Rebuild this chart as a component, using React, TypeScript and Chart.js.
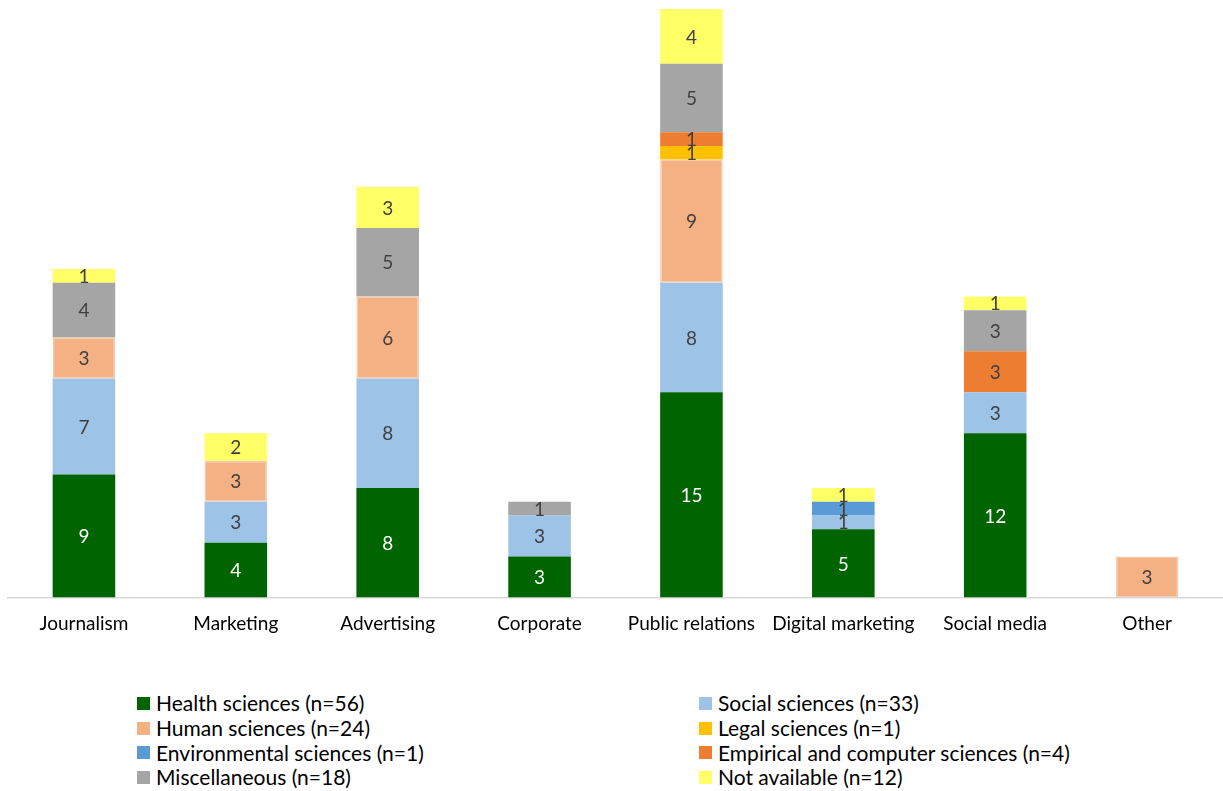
import React, { useEffect, useRef } from "react";
import { Chart, registerables } from "chart.js";

Chart.register(...registerables);

const categories = [
  "Journalism",
  "Marketing",
  "Advertising",
  "Corporate",
  "Public relations",
  "Digital marketing",
  "Social media",
  "Other",
];

const healthSciences = [9, 4, 8, 3, 15, 5, 12, 0];
const socialSciences = [7, 3, 8, 3, 8, 1, 3, 0];
const humanSciences = [3, 3, 6, 0, 9, 0, 0, 3];
const legalSciences = [0, 0, 0, 0, 1, 0, 0, 0];
const environmentalSciences = [0, 0, 0, 0, 0, 1, 0, 0];
const empiricalSciences = [0, 0, 0, 0, 1, 0, 3, 0];
const miscellaneous = [4, 0, 5, 1, 5, 0, 3, 0];
const notAvailable = [1, 2, 3, 0, 4, 1, 1, 0];

const seriesLabels = [
  "Health sciences (n=56)",
  "Social sciences (n=33)",
  "Human sciences (n=24)",
  "Legal sciences (n=1)",
  "Environmental sciences (n=1)",
  "Empirical and computer sciences (n=4)",
  "Miscellaneous (n=18)",
  "Not available (n=12)",
];
const seriesValues = [
  healthSciences,
  socialSciences,
  humanSciences,
  legalSciences,
  environmentalSciences,
  empiricalSciences,
  miscellaneous,
  notAvailable,
];
const seriesColors = [
  "#006400",
  "#9DC3E6",
  "#F4B183",
  "#FFC000",
  "#5B9BD5",
  "#ED7D31",
  "#A5A5A5",
  "#FFFF66",
];
const seriesBorders = [
  "#006400",
  "#9DC3E6",
  "#F8CBAD",
  "#FFC000",
  "#5B9BD5",
  "#ED7D31",
  "#A5A5A5",
  "#FFFF66",
];
const labelColors = ["#FFFFFF", "#404040", "#404040", "#404040", "#404040", "#404040", "#404040", "#404040"];

// legend order (two columns, row by row)
const legendOrder = [0, 1, 2, 3, 4, 5, 6, 7];

const FONT = "Lato, 'Open Sans', sans-serif";

const valueLabels = {
  id: "valueLabels",
  afterDatasetsDraw(chart: any) {
    const ctx = chart.ctx;
    ctx.save();
    ctx.font = `19px ${FONT}`;
    ctx.textAlign = "center";
    ctx.textBaseline = "middle";
    chart.data.datasets.forEach((ds: any, di: number) => {
      const meta = chart.getDatasetMeta(di);
      meta.data.forEach((bar: any, i: number) => {
        const v = ds.data[i];
        if (!v) return;
        const { x, y, base } = bar.getProps(["x", "y", "base"], true);
        ctx.fillStyle = labelColors[di];
        ctx.fillText(String(v), x, (y + base) / 2 + 1);
      });
    });
    ctx.restore();
  },
};

export default function App() {
  const ref = useRef<HTMLCanvasElement>(null);

  useEffect(() => {
    if (!ref.current) return;
    const chart = new Chart(ref.current, {
      type: "bar",
      data: {
        labels: categories,
        datasets: seriesValues.map((vals, i) => ({
          label: seriesLabels[i],
          data: vals,
          backgroundColor: seriesColors[i],
          borderColor: seriesBorders[i],
          borderWidth: i === 2 ? 1.5 : 0,
          borderSkipped: false,
          barPercentage: 1,
          categoryPercentage: 0.412,
        })),
      },
      options: {
        animation: false,
        responsive: false,
        maintainAspectRatio: false,
        layout: { padding: { left: 8, right: 0, top: 9, bottom: 9.6 } },
        plugins: {
          legend: { display: false },
          tooltip: { enabled: false },
        },
        scales: {
          x: {
            stacked: true,
            grid: { display: false, drawTicks: false },
            border: { display: true, color: "#D9D9D9", width: 1.5 },
            ticks: {
              color: "#000000",
              font: { family: FONT, size: 19 },
              padding: 15,
              maxRotation: 0,
              autoSkip: false,
            },
          },
          y: {
            stacked: true,
            display: false,
            min: 0,
            max: 43,
          },
        },
      },
      plugins: [valueLabels],
    });
    return () => chart.destroy();
  }, []);

  const rows: number[][] = [];
  for (let i = 0; i < legendOrder.length; i += 2) rows.push([legendOrder[i], legendOrder[i + 1]]);

  return (
    <div style={{ position: "absolute", left: 0, top: 0, width: 1223, height: 791, background: "#fff", fontFamily: FONT }}>
      <canvas ref={ref} width={1223} height={660} style={{ display: "block", width: 1223, height: 660 }} />
      <div style={{ position: "absolute", left: 137, top: 691, width: 1080 }}>
        {rows.map((r, ri) => (
          <div key={ri} style={{ display: "flex", height: 24.7, alignItems: "center" }}>
            {r.map((si, ci) => (
              <div key={ci} style={{ display: "flex", alignItems: "center", width: ci === 0 ? 562 : 480 }}>
                <span
                  style={{
                    display: "inline-block",
                    flex: "none",
                    width: 13,
                    height: 13,
                    background: seriesColors[si],
                    marginRight: 6,
                  }}
                />
                <span style={{ fontSize: 21, lineHeight: "24px", color: "#000", whiteSpace: "nowrap" }}>{seriesLabels[si]}</span>
              </div>
            ))}
          </div>
        ))}
      </div>
    </div>
  );
}
